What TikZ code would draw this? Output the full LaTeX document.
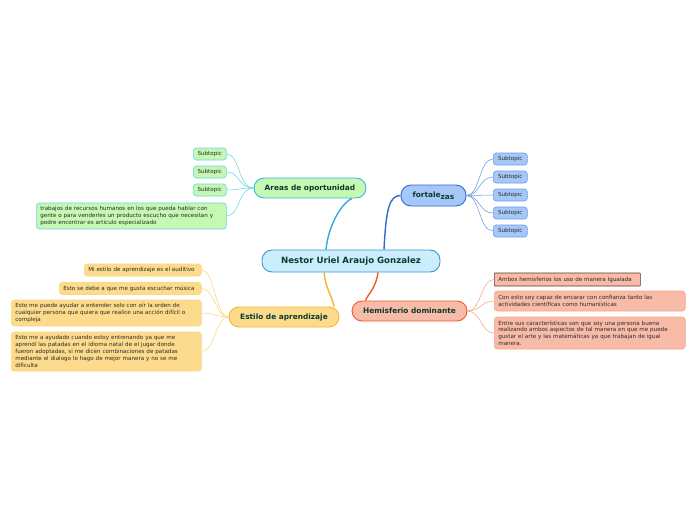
\documentclass[tikz,border=0pt]{standalone}
\usepackage{fontspec}
\setmainfont{DejaVu Sans}
\definecolor{cfill}{HTML}{CBEDFC}
\definecolor{cline}{HTML}{3A97D8}
\definecolor{gfill}{HTML}{C4F8B3}
\definecolor{gline}{HTML}{36B9E2}
\definecolor{gsub}{HTML}{66D8E8}
\definecolor{bfill}{HTML}{A6C8F8}
\definecolor{bline}{HTML}{3468D2}
\definecolor{bsub}{HTML}{6C9BEA}
\definecolor{yfill}{HTML}{FDDB8C}
\definecolor{yline}{HTML}{F7B52A}
\definecolor{ysub}{HTML}{FBD77E}
\definecolor{rfill}{HTML}{F8BBA7}
\definecolor{rline}{HTML}{F05A28}
\definecolor{rsub}{HTML}{F7A58A}
\definecolor{rdark}{HTML}{5A3A30}
\definecolor{ttext}{HTML}{0B3A2E}
\definecolor{stext}{HTML}{2A2A2A}
\tikzset{
  mainbox/.style={draw, line width=0.9pt, rounded corners=10pt, font=\fontsize{7.4}{9}\selectfont\bfseries, text=ttext, inner sep=0pt},
  subbox/.style={draw, line width=0.6pt, rounded corners=3pt, font=\fontsize{5.6}{6.8}\selectfont, text=stext, align=left, anchor=west, inner xsep=4pt, inner ysep=2.2pt},
  maincon/.style={line width=1.4pt},
  subcon/.style={line width=0.55pt}
}
\begin{document}
\begin{tikzpicture}[x=1pt,y=-1pt]
\useasboundingbox (0,0) rectangle (696,520);
\fill[white] (0,0) rectangle (696,520);

% central
\node[mainbox, fill=cfill, draw=cline, minimum width=178pt, minimum height=22pt, font=\fontsize{8.6}{10}\selectfont\bfseries] (c) at (351,261) {Nestor Uriel Araujo Gonzalez};

% main topics
\node[mainbox, fill=gfill, draw=gline, minimum width=112pt, minimum height=20pt] (a) at (310,188) {Areas de oportunidad};
\node[mainbox, fill=bfill, draw=bline, minimum width=65pt, minimum height=21pt] (f) at (433.5,195.5) {fortale\raisebox{-1.6pt}{zas}};
\node[mainbox, fill=yfill, draw=yline, minimum width=110pt, minimum height=20pt] (e) at (284,317) {Estilo de aprendizaje};
\node[mainbox, fill=rfill, draw=rline, minimum width=115pt, minimum height=20pt] (h) at (409.5,311) {Hemisferio dominante};

% main connectors
\draw[maincon, draw=cline!80!cyan] ([xshift=-25pt]c.north) .. controls (328,228) and (340,204) .. ([xshift=42pt]a.south);
\draw[maincon, draw=bline] ([xshift=33pt]c.north) .. controls (386,210) and (389,195.5) .. (f.west);
\draw[maincon, draw=yline] ([xshift=-27pt]c.south) .. controls (326,290) and (333,298) .. ([xshift=50pt]e.north);
\draw[maincon, draw=rline] ([xshift=27pt]c.south) .. controls (376,288) and (368,294) .. ([xshift=-44pt]h.north);

% Areas subtopics
\node[subbox, fill=gfill, draw=gsub, minimum width=33pt, minimum height=12pt, inner xsep=2pt] (a1) at (193,154) {Subtopic};
\node[subbox, fill=gfill, draw=gsub, minimum width=33pt, minimum height=12pt, inner xsep=2pt] (a2) at (193,172) {Subtopic};
\node[subbox, fill=gfill, draw=gsub, minimum width=33pt, minimum height=12pt, inner xsep=2pt] (a3) at (193,190) {Subtopic};
\node[subbox, fill=gfill, draw=gsub, text width=182pt, minimum height=26pt] (a4) at (36,216) {trabajos de recursos humanos en los que pueda hablar con\\gente o para venderles un producto escucho que necesitan y\\podre encontrar es articulo especializado};
\foreach \n in {a1,a2,a3,a4}
  \draw[subcon, draw=gsub] (a.west) .. controls (238,188) and (240,0|-\n.east) .. (\n.east);

% fortalezas subtopics
\foreach \i/\yy in {1/159,2/177,3/195,4/213,5/231}{
  \node[subbox, fill=bfill, draw=bsub, minimum width=34pt, minimum height=12pt, inner xsep=2pt] (f\i) at (493,\yy) {Subtopic};
  \draw[subcon, draw=bsub] (f.east) .. controls (480,195.5) and (479,\yy) .. (f\i.west);
}

% Estilo subtopics
\node[subbox, fill=yfill, draw=ysub, text width=109pt, minimum height=12pt] (e1) at (84,270) {Mi estilo de aprendizaje es el auditivo};
\node[subbox, fill=yfill, draw=ysub, text width=134pt, minimum height=12pt] (e2) at (59,288.5) {Esto se debe a que me gusta escuchar música};
\node[subbox, fill=yfill, draw=ysub, text width=182pt, minimum height=26pt] (e3) at (11,313) {Esto me puede ayudar a entender solo con oír la orden de\\cualquier persona que quiera que realice una acción difícil o\\compleja};
\node[subbox, fill=yfill, draw=ysub, text width=182pt, minimum height=39pt] (e4) at (11,351.5) {Esto me a ayudado cuando estoy entrenando ya que me\\aprendí las patadas en el idioma natal de el jugar donde\\fueron adoptadas, si me dicen combinaciones de patadas\\mediante el dialogo lo hago de mejor manera y no se me\\dificulta};
\foreach \n in {e1,e2,e3,e4}
  \draw[subcon, draw=ysub] (e.west) .. controls (215,317) and (215,0|-\n.east) .. (\n.east);

% Hemisferio subtopics
\node[subbox, fill=rfill, draw=rdark, rounded corners=0.5pt, text width=138pt, minimum height=13pt] (h1) at (494,279.5) {Ambos hemisferios los uso de manera Igualada};
\node[subbox, fill=rfill, draw=rsub, text width=183pt, minimum height=20pt] (h2) at (494,301) {Con esto soy capaz de encarar con confianza tanto las\\actividades científicas como humanísticas};
\node[subbox, fill=rfill, draw=rsub, text width=183pt, minimum height=32pt] (h3) at (494,333) {Entre sus características son que soy una persona buena\\realizando ambos aspectos de tal manera en que me puede\\gustar el arte y las matemáticas ya que trabajan de igual\\manera.};
\foreach \n in {h1,h2,h3}
  \draw[subcon, draw=rsub] (h.east) .. controls (481,311) and (481,0|-\n.west) .. (\n.west);
\end{tikzpicture}
\end{document}
